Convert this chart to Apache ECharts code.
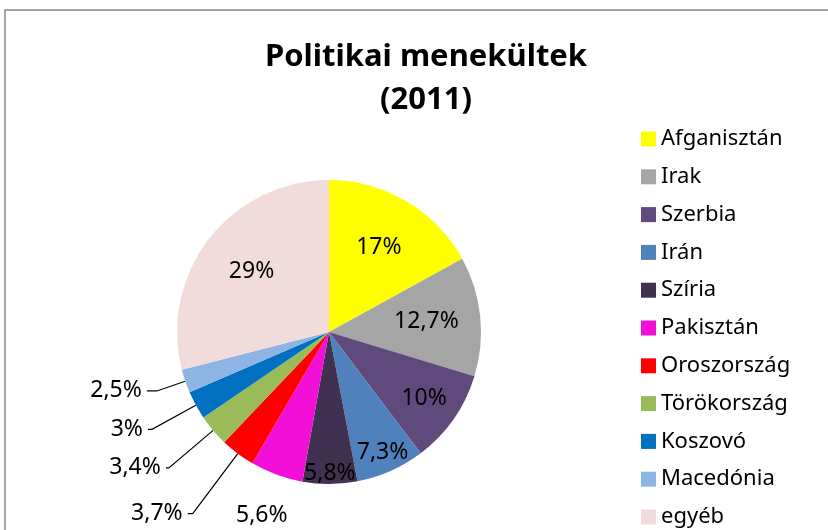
<!DOCTYPE html>
<html>
<head>
<meta charset="utf-8">
<style>
  html, body { margin: 0; padding: 0; background: #fff; }
  #chart { width: 828px; height: 530px; }
</style>
<script src="https://cdn.jsdelivr.net/npm/echarts@6/dist/echarts.min.js"></script>
</head>
<body>
<div id="chart"></div>
<script>
// Politikai menekültek (2011), share of each country in percent
var countries = ["Afganisztán", "Irak", "Szerbia", "Irán", "Szíria", "Pakisztán",
  "Oroszország", "Törökország", "Koszovó", "Macedónia", "egyéb"];
var shares = [17, 12.7, 10, 7.3, 5.8, 5.6, 3.7, 3.4, 3, 2.5, 29];
var colors = ["#FFFF00", "#A5A5A5", "#604A7B", "#4F81BD", "#403151", "#F20FD8",
  "#FF0000", "#9BBB59", "#0070C0", "#8DB4E2", "#F2DCDB"];

var FONT = "Noto Sans";
var CX = 329, CY = 332, R = 152;

function pct(v) {
  return String(v).replace(".", ",") + "%";
}

// outside labels with leader lines: [radial length, horizontal length]
var leader = {
  "Pakisztán": [26, 0],
  "Oroszország": [75, 5],
  "Törökország": [58, 3],
  "Koszovó": [50, 4],
  "Macedónia": [30, 10]
};

var mainData = countries.map(function (name, i) {
  var item = { name: name, value: shares[i], itemStyle: { color: colors[i] } };
  if (leader[name]) {
    item.label = {
      show: true,
      position: "outside",
      // Pakisztán gets its text from a ring below, only the line is drawn here
      color: name === "Pakisztán" ? "rgba(0,0,0,0)" : "#000"
    };
    item.labelLine = { show: true, length: leader[name][0], length2: leader[name][1] };
  }
  return item;
});

// invisible pie used only to place inside labels at a given distance from centre
function ring(labelRadius, names) {
  return {
    type: "pie",
    silent: true,
    center: [CX, CY],
    radius: [0, labelRadius * 2],
    startAngle: 90,
    clockwise: true,
    avoidLabelOverlap: false,
    itemStyle: { color: "rgba(0,0,0,0)" },
    labelLine: { show: false },
    label: { show: false },
    emphasis: { disabled: true },
    animation: false,
    data: countries.map(function (name, i) {
      return {
        name: name,
        value: shares[i],
        label: {
          show: names.indexOf(name) >= 0,
          position: "inside",
          color: "#000",
          fontFamily: FONT,
          fontSize: 23,
          formatter: function (p) { return pct(p.value); }
        }
      };
    })
  };
}

var chart = echarts.init(document.getElementById("chart"));
chart.setOption({
  animation: false,
  backgroundColor: "#fff",
  title: {
    text: "Politikai menekültek\n(2011)",
    left: 421,
    top: 31,
    textAlign: "center",
    textStyle: {
      fontFamily: FONT,
      fontWeight: "bold",
      fontSize: 31,
      lineHeight: 43,
      color: "#000"
    }
  },
  legend: {
    orient: "vertical",
    left: 636,
    top: 122,
    height: 480,
    icon: "rect",
    itemWidth: 15,
    itemHeight: 15,
    itemGap: 13.8,
    data: countries,
    textStyle: {
      fontFamily: FONT,
      fontSize: 22,
      lineHeight: 24,
      color: "#000"
    }
  },
  graphic: [{
    type: "rect",
    silent: true,
    shape: { x: 5, y: 10, width: 840, height: 540 },
    style: { fill: "none", stroke: "#888", lineWidth: 1.5 }
  }],
  series: [
    {
      type: "pie",
      center: [CX, CY],
      radius: [0, R],
      startAngle: 90,
      clockwise: true,
      avoidLabelOverlap: false,
      emphasis: { disabled: true },
      label: {
        show: false,
        fontFamily: FONT,
        fontSize: 23,
        color: "#000",
        formatter: function (p) { return pct(p.value); }
      },
      labelLine: {
        show: false,
        smooth: false,
        lineStyle: { color: "#000", width: 1.2 }
      },
      data: mainData
    },
    ring(95, ["Afganisztán", "Irak", "egyéb"]),
    ring(113, ["Szerbia"]),
    ring(129, ["Irán"]),
    ring(138, ["Szíria"]),
    ring(192, ["Pakisztán"])
  ]
});
</script>
</body>
</html>
